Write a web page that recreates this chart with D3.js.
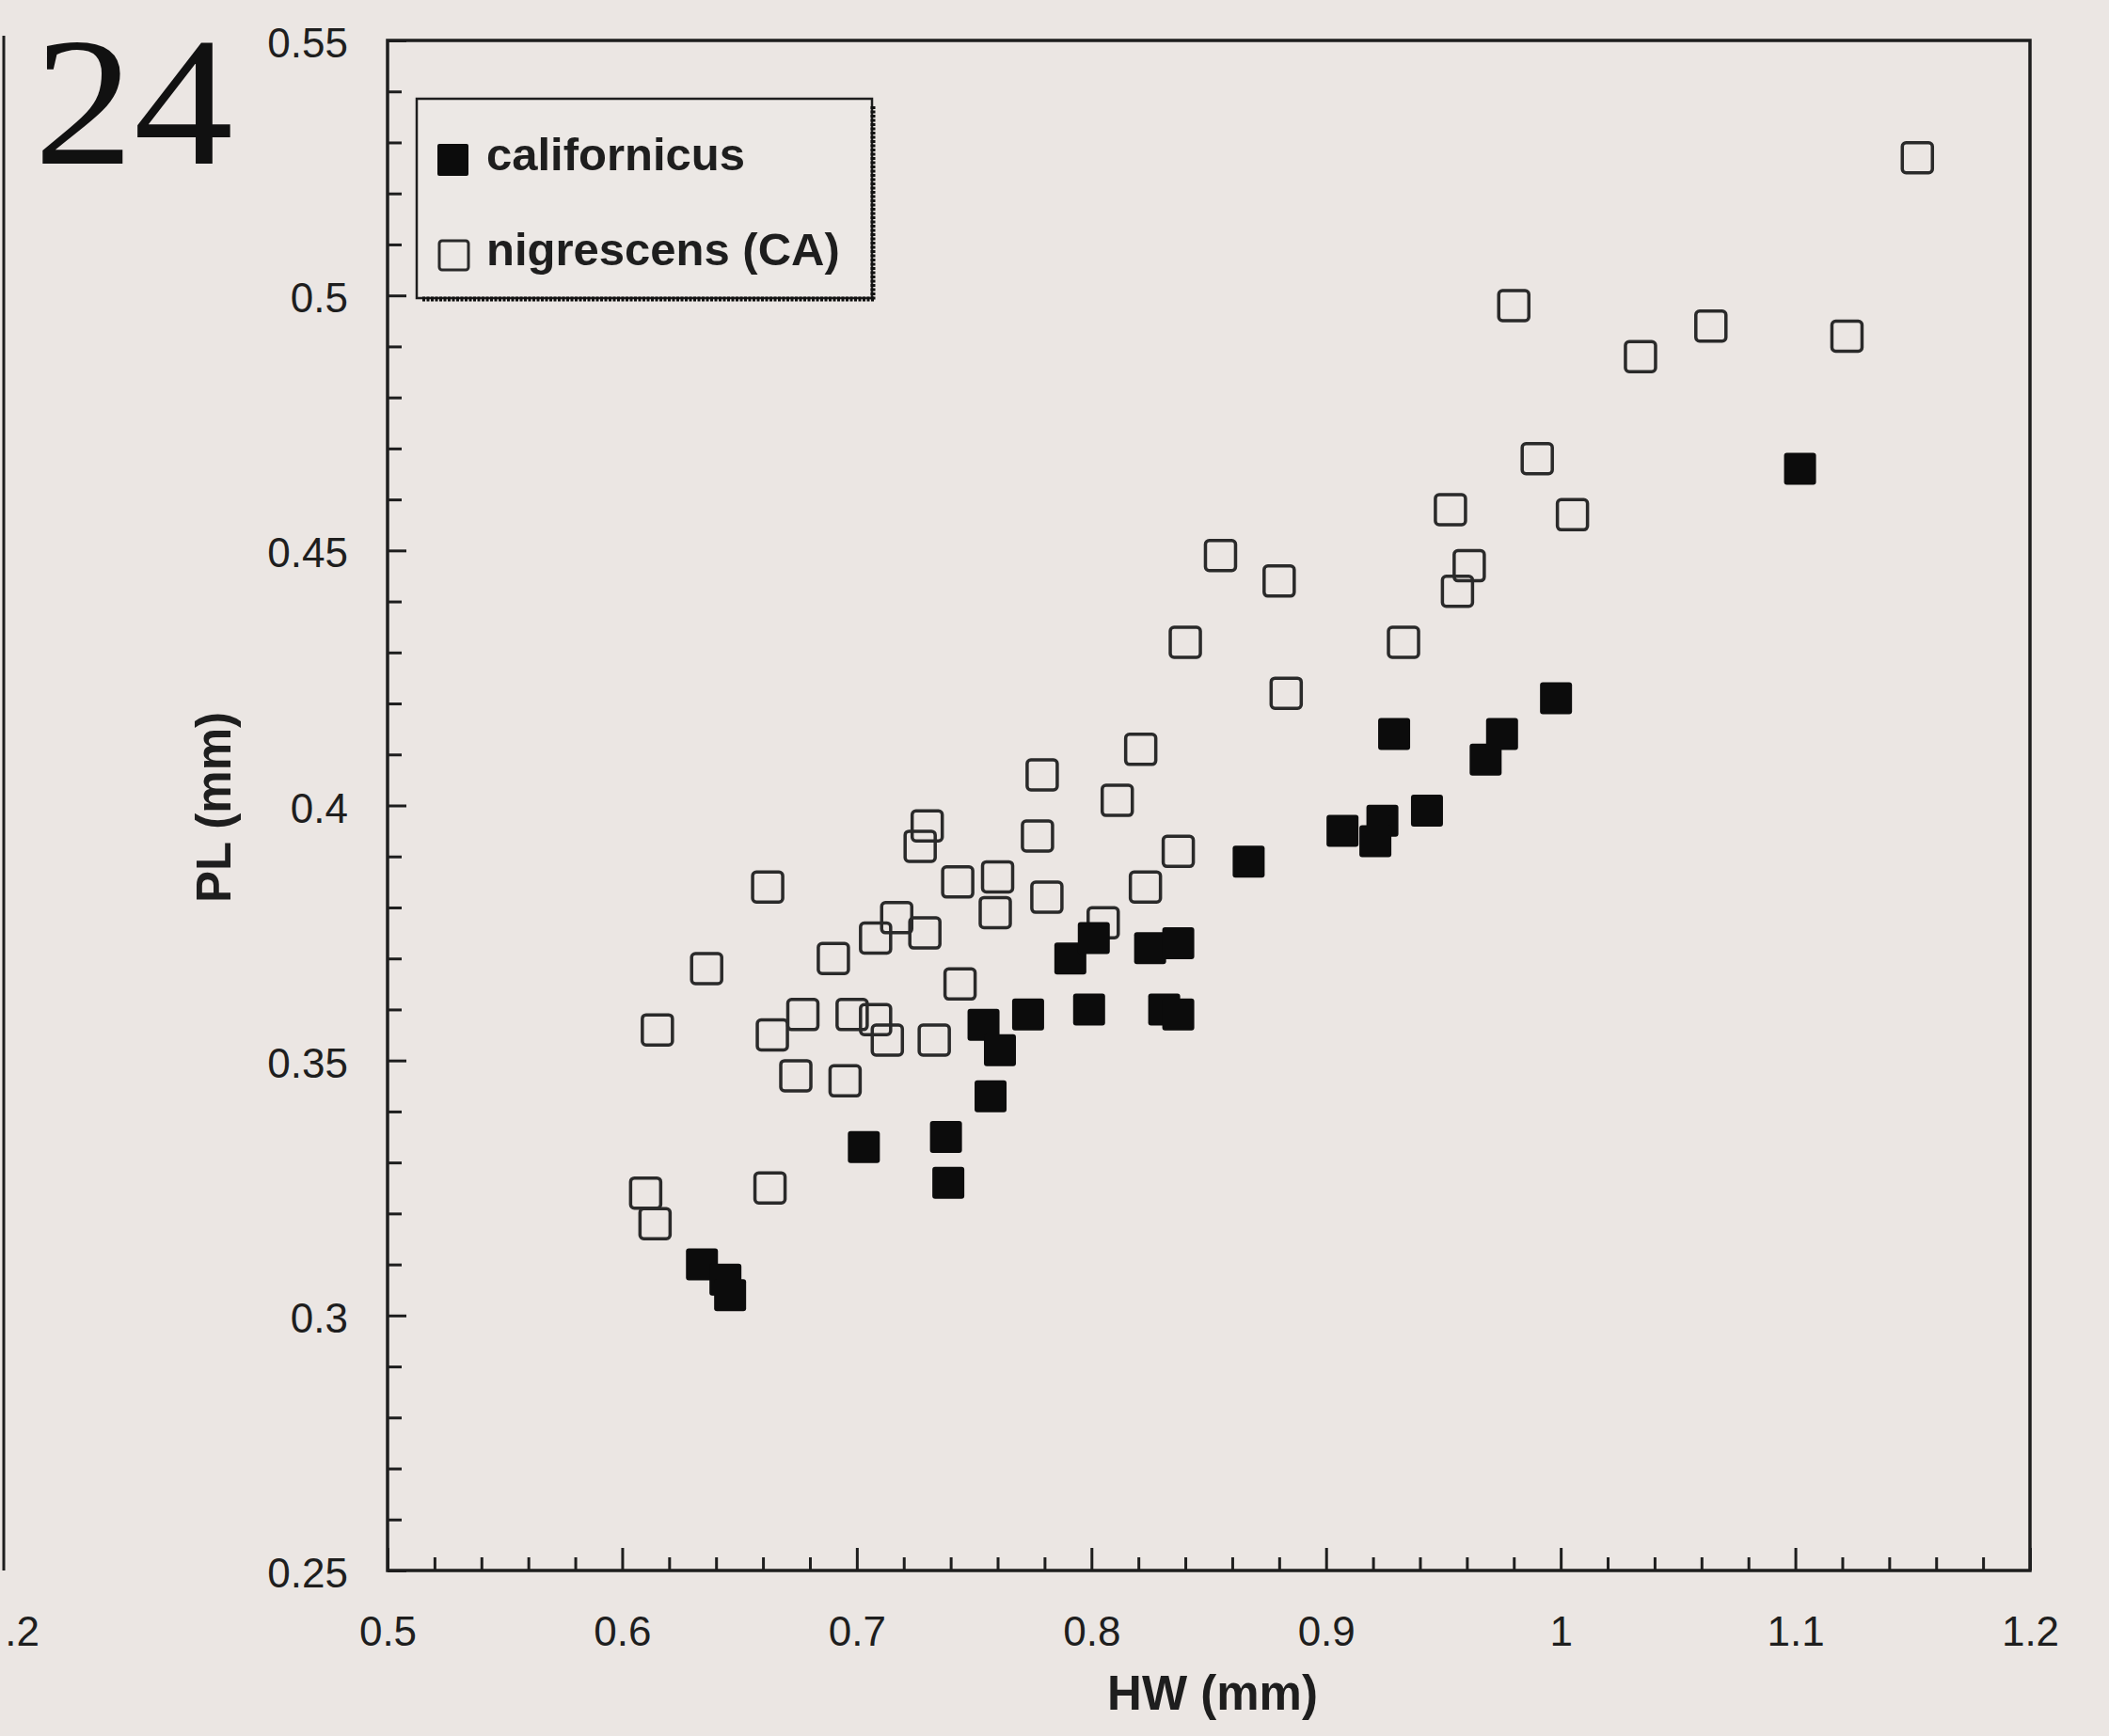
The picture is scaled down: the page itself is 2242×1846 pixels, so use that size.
<!DOCTYPE html>
<html>
<head>
<meta charset="utf-8">
<script src="https://cdn.jsdelivr.net/npm/d3@7"></script>
<style>
  html, body { margin: 0; padding: 0; background: #ebe6e3; }
  svg { display: block; }
</style>
</head>
<body>
<svg id="chart" width="2242" height="1846"></svg>
<script>
// ---- data ----
const seriesNames = ["californicus", "nigrescens (CA)"];

const californicusHW = [0.634, 0.644, 0.646, 0.703, 0.738, 0.739, 0.757, 0.754, 0.761, 0.773,
  0.791, 0.801, 0.799, 0.825, 0.837, 0.831, 0.837, 0.867, 0.907, 0.924, 0.921, 0.929, 0.943,
  0.968, 0.975, 0.998, 1.102];
const californicusPL = [0.310, 0.307, 0.304, 0.333, 0.335, 0.326, 0.343, 0.357, 0.352, 0.359,
  0.370, 0.374, 0.360, 0.372, 0.373, 0.360, 0.359, 0.389, 0.395, 0.397, 0.393, 0.414, 0.399,
  0.409, 0.414, 0.421, 0.466];

const nigrescensHW = [0.662, 0.636, 0.615, 0.610, 0.614, 0.663, 0.690, 0.664, 0.677, 0.674,
  0.695, 0.698, 0.708, 0.713, 0.733, 0.730, 0.727, 0.777, 0.743, 0.760, 0.759, 0.781, 0.717,
  0.708, 0.729, 0.744, 0.821, 0.779, 0.811, 0.837, 0.823, 0.805, 0.953, 0.961, 0.956, 0.855,
  0.880, 0.840, 0.933, 0.883, 0.980, 1.064, 1.122, 1.034, 0.990, 1.005, 1.152];
const nigrescensPL = [0.384, 0.368, 0.356, 0.324, 0.318, 0.325, 0.370, 0.355, 0.359, 0.347,
  0.346, 0.359, 0.358, 0.354, 0.354, 0.396, 0.392, 0.394, 0.385, 0.386, 0.379, 0.382, 0.378,
  0.374, 0.375, 0.365, 0.411, 0.406, 0.401, 0.391, 0.384, 0.377, 0.458, 0.447, 0.442, 0.449,
  0.444, 0.432, 0.432, 0.422, 0.498, 0.494, 0.492, 0.488, 0.468, 0.457, 0.527];

const xTickValues = [0.5, 0.6, 0.7, 0.8, 0.9, 1.0, 1.1, 1.2];
const xTickLabels = ["0.5", "0.6", "0.7", "0.8", "0.9", "1", "1.1", "1.2"];
const yTickValues = [0.25, 0.3, 0.35, 0.4, 0.45, 0.5, 0.55];
const yTickLabels = ["0.25", "0.3", "0.35", "0.4", "0.45", "0.5", "0.55"];
const xTitle = "HW (mm)";
const yTitle = "PL (mm)";
const panelLabel = "24";

// ---- layout ----
const L = 412, R = 2158, T = 43, B = 1670;
const svg = d3.select("#chart");
const x = d3.scaleLinear().domain([0.5, 1.2]).range([L, R]);
const y = d3.scaleLinear().domain([0.25, 0.55]).range([B, T]);
const ink = "#1e1e1e";
const sans = "'Liberation Sans', Arial, Helvetica, sans-serif";

// neighbouring figure remnants
svg.append("line").attr("x1", 4).attr("x2", 4).attr("y1", 38).attr("y2", B)
  .attr("stroke", ink).attr("stroke-width", 3);
svg.append("text").attr("x", 42).attr("y", 1750).attr("text-anchor", "end")
  .attr("font-family", sans).attr("font-size", 44).attr("fill", ink).text(".2");

// panel number
svg.append("text").attr("x", 36).attr("y", 174)
  .attr("font-family", "'Liberation Serif', 'Times New Roman', serif")
  .attr("font-size", 195).attr("fill", "#111")
  .attr("textLength", 212).attr("lengthAdjust", "spacingAndGlyphs")
  .text(panelLabel);

// minor ticks
const xMinor = d3.range(0.52, 1.2, 0.02).filter(v => Math.abs(v * 10 - Math.round(v * 10)) > 1e-6);
const yMinor = d3.range(0.26, 0.55, 0.01).filter(v => Math.abs(v * 20 - Math.round(v * 20)) > 1e-6);

const gxm = svg.append("g").attr("transform", `translate(0,${B})`)
  .call(d3.axisBottom(x).tickValues(xMinor).tickSize(-14).tickFormat(""));
const gym = svg.append("g").attr("transform", `translate(${L},0)`)
  .call(d3.axisLeft(y).tickValues(yMinor).tickSize(-15).tickFormat(""));

const gx = svg.append("g").attr("transform", `translate(0,${B})`)
  .call(d3.axisBottom(x).tickValues(xTickValues).tickSize(-24).tickPadding(49)
    .tickFormat((d, i) => xTickLabels[i]));
const gy = svg.append("g").attr("transform", `translate(${L},0)`)
  .call(d3.axisLeft(y).tickValues(yTickValues).tickSize(-20).tickPadding(42)
    .tickFormat((d, i) => yTickLabels[i]));

[gxm, gym, gx, gy].forEach(g => {
  g.select(".domain").remove();
  g.selectAll(".tick line").attr("stroke", ink).attr("stroke-width", 3);
  g.selectAll(".tick text").attr("font-family", sans).attr("font-size", 44).attr("fill", ink);
});
gy.selectAll(".tick text").attr("dy", "0.40em");

// frame
svg.append("rect").attr("x", L).attr("y", T).attr("width", R - L).attr("height", B - T)
  .attr("fill", "none").attr("stroke", ink).attr("stroke-width", 3.5);

// axis titles
svg.append("text").attr("x", (L + R) / 2 + 4).attr("y", 1818).attr("text-anchor", "middle")
  .attr("font-family", sans).attr("font-weight", "bold").attr("font-size", 51).attr("fill", ink)
  .text(xTitle);
svg.append("text").attr("transform", `translate(245,${(T + B) / 2 + 2}) rotate(-90)`)
  .attr("text-anchor", "middle")
  .attr("font-family", sans).attr("font-weight", "bold").attr("font-size", 51).attr("fill", ink)
  .text(yTitle);

// points
const S = 32;
const nig = nigrescensHW.map((v, i) => ({ hw: v, pl: nigrescensPL[i] }));
const cal = californicusHW.map((v, i) => ({ hw: v, pl: californicusPL[i] }));

svg.append("g").selectAll("rect").data(nig).join("rect")
  .attr("x", d => x(d.hw) - S / 2).attr("y", d => y(d.pl) - S / 2)
  .attr("width", S).attr("height", S).attr("rx", 4)
  .attr("fill", "none").attr("stroke", "#2a2a2a").attr("stroke-width", 3.5);

svg.append("g").selectAll("rect").data(cal).join("rect")
  .attr("x", d => x(d.hw) - (S + 2) / 2).attr("y", d => y(d.pl) - (S + 2) / 2)
  .attr("width", S + 2).attr("height", S + 2).attr("rx", 3)
  .attr("fill", "#0c0c0c");

// legend
const lg = svg.append("g");
const lx = 443, ly = 105, lw = 484, lh = 212;
lg.append("rect").attr("x", lx).attr("y", ly).attr("width", lw).attr("height", lh)
  .attr("fill", "#ece8e5").attr("stroke", ink).attr("stroke-width", 2.5);
lg.append("line").attr("x1", lx + lw + 1).attr("x2", lx + lw + 1).attr("y1", ly + 8).attr("y2", ly + lh + 3)
  .attr("stroke", "#111").attr("stroke-width", 5).attr("stroke-dasharray", "3,1.5");
lg.append("line").attr("x1", lx + 6).attr("x2", lx + lw + 3).attr("y1", ly + lh + 1).attr("y2", ly + lh + 1)
  .attr("stroke", "#111").attr("stroke-width", 5).attr("stroke-dasharray", "3,1.5");

const legendRows = [
  { name: seriesNames[0], filled: true, cy: 170 },
  { name: seriesNames[1], filled: false, cy: 271 }
];
legendRows.forEach(r => {
  if (r.filled) {
    lg.append("rect").attr("x", 465).attr("y", r.cy - 17).attr("width", 33).attr("height", 34)
      .attr("rx", 2).attr("fill", "#0c0c0c");
  } else {
    lg.append("rect").attr("x", 467).attr("y", r.cy - 15).attr("width", 31).attr("height", 31)
      .attr("rx", 3).attr("fill", "none").attr("stroke", "#2a2a2a").attr("stroke-width", 3);
  }
  lg.append("text").attr("x", 517).attr("y", r.cy + 11)
    .attr("font-family", sans).attr("font-weight", "bold").attr("font-size", 49).attr("fill", ink)
    .text(r.name);
});
</script>
</body>
</html>
